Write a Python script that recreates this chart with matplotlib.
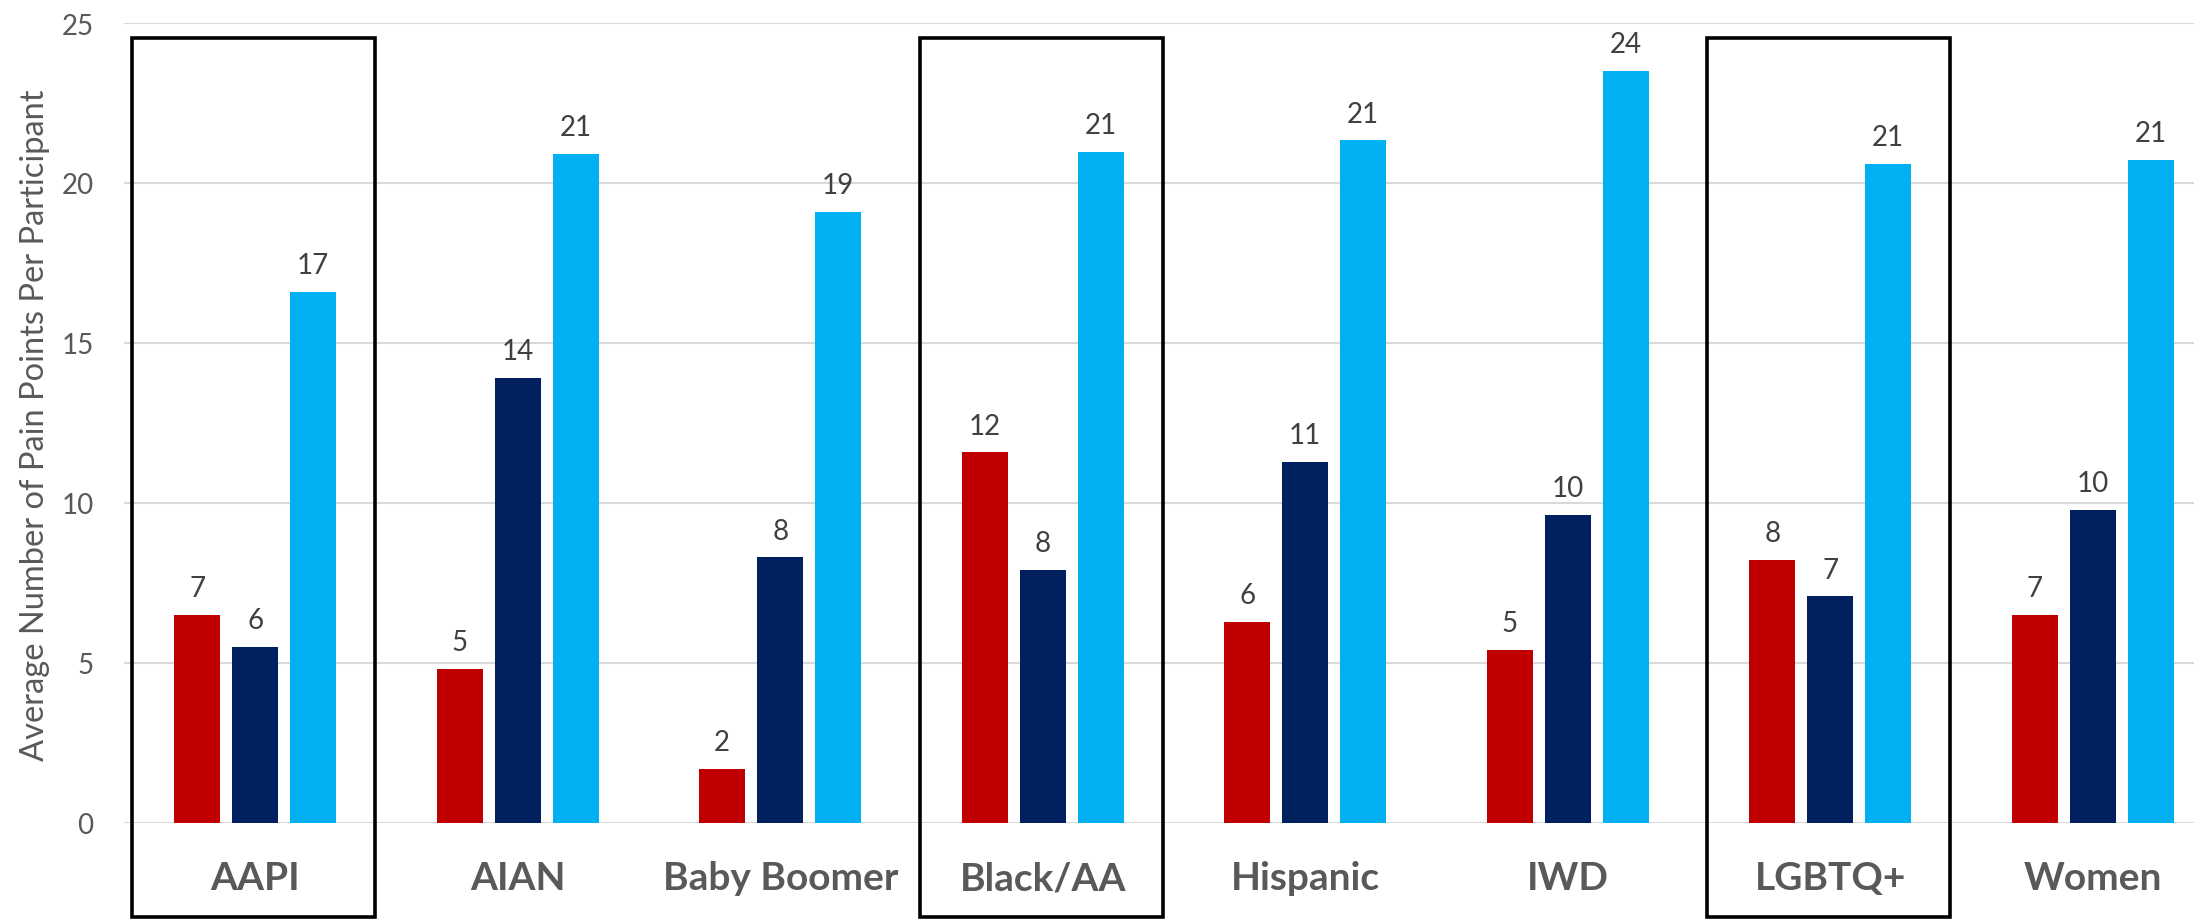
import numpy as np
import matplotlib.pyplot as plt
from matplotlib.patches import Rectangle

plt.rcParams['font.family'] = ['Lato', 'DejaVu Sans']

groups = ['AAPI', 'AIAN', 'Baby Boomer', 'Black/AA', 'Hispanic', 'IWD', 'LGBTQ+', 'Women']
red_vals = [6.51, 4.81, 1.70, 11.58, 6.29, 5.42, 8.22, 6.51]
navy_vals = [5.51, 13.9, 8.30, 7.91, 11.28, 9.62, 7.08, 9.79]
blue_vals = [16.6, 20.9, 19.1, 20.98, 21.33, 23.51, 20.59, 20.72]
boxed = ['AAPI', 'Black/AA', 'LGBTQ+']

colors = ['#c00000', '#002060', '#00b0f0']
series = [red_vals, navy_vals, blue_vals]

fig = plt.figure(figsize=(21.94, 9.2), dpi=100)
# plot area runs past the right edge, like the original crop
ax = fig.add_axes([124 / 2194, 96 / 920, 2100 / 2194, 800 / 920])

x = np.arange(len(groups))
w = 0.175
step = 0.221

for k, (vals, col) in enumerate(zip(series, colors)):
    pos = x + (k - 1) * step
    ax.bar(pos, vals, width=w, color=col, zorder=3)
    for p, v in zip(pos, vals):
        ax.annotate(f"{v:.0f}", (p, v), xytext=(0, 10), textcoords='offset points',
                    ha='center', va='bottom', fontsize=20, color='#404040')

# black boxes round some groups
for g in boxed:
    i = groups.index(g)
    r = Rectangle((i - 0.468, -2.93), 0.925, 27.46, fill=False, edgecolor='black',
                  linewidth=2.6, clip_on=False, zorder=4)
    ax.add_patch(r)

ax.set_xlim(-0.5, len(groups) - 0.5)
ax.set_ylim(0, 25)
ax.set_yticks([0, 5, 10, 15, 20, 25])
ax.yaxis.grid(True, color='#d9d9d9', linewidth=1.5, zorder=0)
ax.set_axisbelow(True)
for s in ax.spines.values():
    s.set_visible(False)
ax.tick_params(axis='y', length=0, labelsize=20, labelcolor='#595959', pad=22)
ax.tick_params(axis='x', length=0)
ax.set_xticks(x)
ax.set_xticklabels(groups, fontsize=28, fontweight='bold', color='#595959')
ax.tick_params(axis='x', pad=27)

fig.text(35 / 2194, 1 - 425 / 920, 'Average Number of Pain Points Per Participant',
         rotation=90, ha='center', va='center', fontsize=23.5, color='#595959')

fig.savefig('out.png', dpi=100)
